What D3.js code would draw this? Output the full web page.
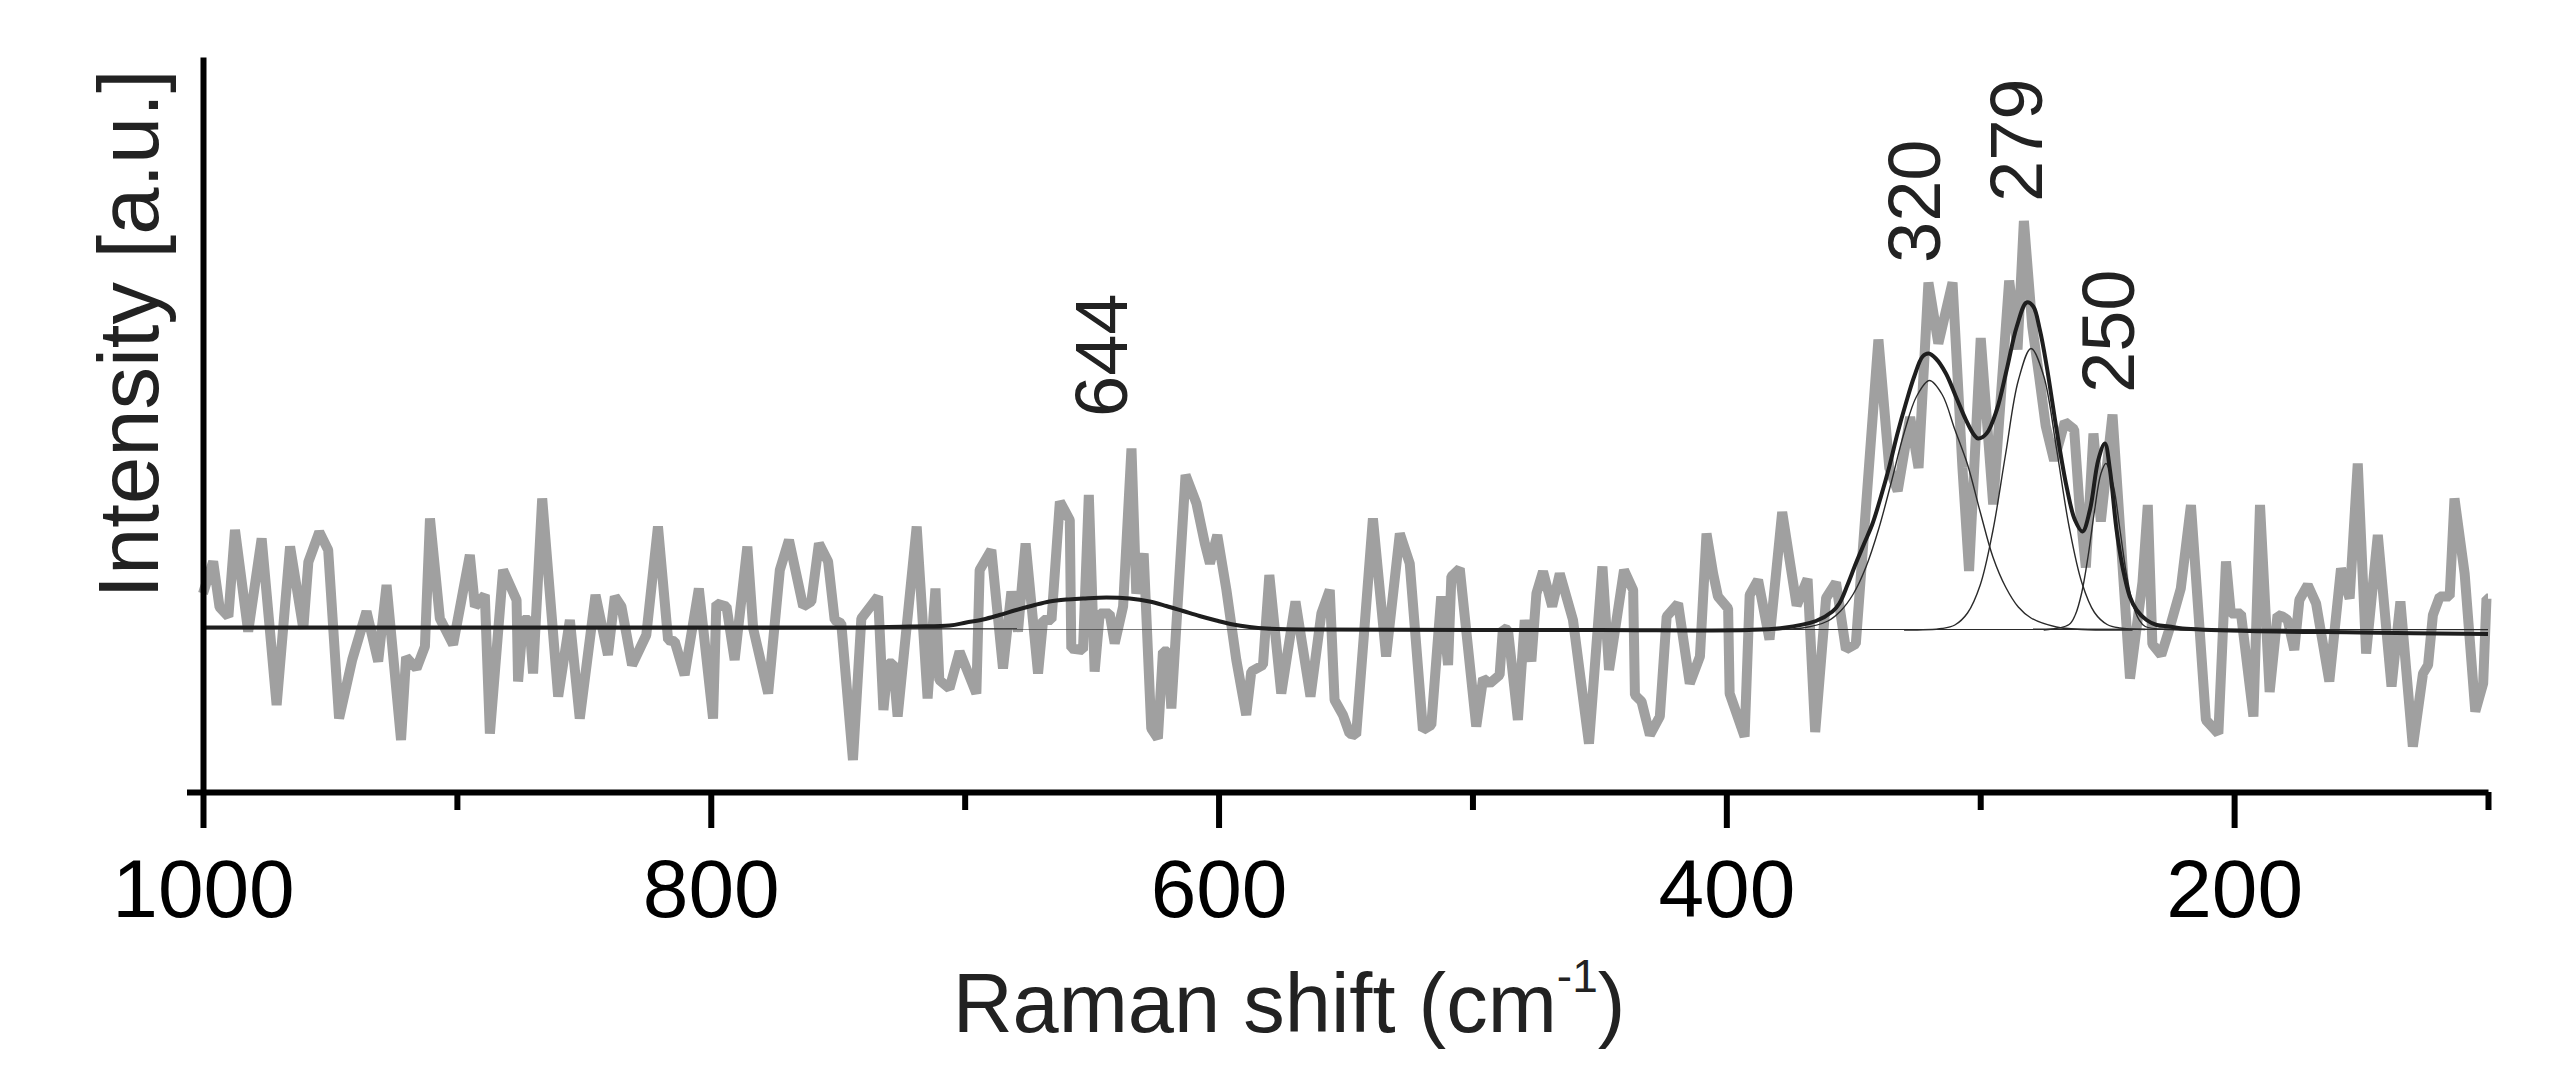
<!DOCTYPE html>
<html lang="en">
<head>
<meta charset="UTF-8">
<title>Raman spectrum</title>
<script src="https://d3js.org/d3.v7.min.js"></script>
<style>
  body { margin: 0; background: #fff; }
  svg { display: block; font-family: "Liberation Sans", Arial, sans-serif; }
</style>
</head>
<body>
<div id="chart"></div>
<script>
// measured spectrum: [Raman shift (cm-1), intensity (a.u.)]
const measured = [
  [1000,39.7],[996,46.1],[993.5,37],[990,35.1],[987.4,52.4],[982.2,32.1],[976.9,50.7],[971,17.4],
  [965.7,49.1],[960.5,32.7],[958.5,46],[954.2,52],[950.7,48.4],[946.4,14.7],[941.2,26.5],[935.6,36.1],
  [931,26.1],[927.7,41.4],[922,10.4],[920,27],[915.9,24.7],[912.6,29.1],[910.6,54.7],[906.7,34.7],
  [901.5,29.5],[894.9,47.4],[892.9,37.1],[889,39.4],[887,11.7],[881.8,44.4],[876.5,38.4],[875.9,22.1],
  [873.9,34.4],[871.5,34.4],[870,23.7],[866.4,58.7],[860.1,19.1],[855.5,34.4],[851.6,14.7],[845.4,39.4],
  [840.5,27.4],[837.8,39.1],[835.2,37.1],[831,25.4],[825.4,31.4],[820.8,53.1],[816.8,30.4],[814.2,30.1],
  [810.3,23.4],[804.7,40.7],[799.1,14.7],[797.8,37.7],[793.8,37.1],[790.6,26.4],[785.6,49.1],[783.3,32.7],
  [777.4,19.7],[772.8,44.4],[769.2,50.4],[763.6,37.1],[760.4,38.1],[757.4,49.7],[753.8,46.1],[751.2,34.4],
  [748.6,33.7],[744,6.4],[740.7,34.7],[734.1,39.1],[732,16.4],[730.2,25.7],[728.2,25.7],[726.4,15.1],
  [718.9,53.1],[714.6,18.7],[711.5,40.7],[710,22.4],[706,20.7],[702,28.1],[695.4,19.7],[694.1,44.4],
  [689.5,48.4],[684.9,24.7],[681.6,40.1],[679,32.1],[676,49.7],[671.1,23.7],[669.1,34.4],[665.8,34.4],
  [662.5,58.1],[658.6,54.4],[658,28.7],[653.4,28.4],[651.1,59.4],[648.8,24.1],[646.8,35.7],[642.9,35.7],
  [640.9,29.7],[637.6,37.1],[634.3,68.7],[632.4,39.7],[629.5,47.7],[626.5,12.7],[623.9,10.7],[621.9,28.1],
  [619.9,28.1],[618.6,16.7],[613,63.4],[608.7,57.7],[605.4,49.7],[603.4,45.7],[600.5,51.4],[596.9,40.4],
  [593,26.4],[589.1,15.4],[587.1,24.1],[582.5,25.4],[580,43.4],[575.3,19.7],[569.7,38.1],[563.8,19.1],
  [559.5,35.7],[556.2,40.4],[554.3,18.4],[551,15.4],[548.4,11.7],[545.8,11.4],[539.2,54.7],[534,27.1],
  [528.6,51.7],[524.7,45.7],[519.5,12.4],[516.2,13.4],[512.3,39.1],[509.6,25.4],[508.3,43.1],[505,44.7],
  [498.5,13.1],[495.8,22.7],[493.2,21.7],[489.3,23.4],[488,32.7],[486,32.4],[482.1,14.4],[479.4,34.4],
  [476.8,26.1],[474.8,39.7],[472.2,44.1],[468.6,37.1],[465.6,43.7],[460.4,34.4],[454.1,9.7],[448.8,45.1],
  [446.2,24.4],[440.3,44.4],[436.7,40.4],[436,19.4],[433.4,18.1],[430.1,11.4],[426.2,15.1],[423.5,35.1],
  [419,37.7],[414.4,21.7],[410.4,27.1],[407.8,51.7],[405.2,43.7],[403.3,39.1],[399.3,36.7],[398.7,19.7],
  [392.8,11.1],[390.8,39.4],[387.5,42.4],[383,30.5],[378,56],[372.3,37.3],[368,42.6],[365,12],
  [360.7,38.8],[356.8,41.9],[352.9,28.5],[349,29.6],[340.1,90.5],[335.8,64.8],[332.5,60.2],[327.6,75],
  [324.3,64.8],[320.4,101.9],[316.5,89.7],[310.9,101.9],[307,64.8],[304.4,44.2],[299.8,90.8],[294.9,57.5],
  [288.6,102.3],[285.3,88.5],[282.8,114.2],[279.5,93.1],[276.8,83.2],[274.2,73.2],[270.9,66.3],[266.7,74],
  [263,72.5],[261,57.9],[258.4,44.9],[255.4,71.7],[252.5,54.1],[247.9,75.5],[241,22.7],[236.1,41.9],
  [234,57.4],[232.2,29.6],[228.7,27.4],[225.6,32.4],[221,40.7],[217,57.4],[211.1,14.4],[206.2,11.7],
  [203.2,46.1],[201.3,35.7],[197.3,35.7],[192.4,15.1],[189.8,57.4],[186,20],[182.9,35.4],[180.9,35.1],
  [178.9,34.4],[176.3,28.4],[174.3,38.4],[171,41.4],[167.7,37.7],[162.5,22.1],[157.9,44.7],[154.5,38.7],
  [151.3,65.7],[148,27.7],[143.4,51.4],[138,21.1],[134.5,38.1],[132.2,24.4],[129.6,9.1],[125.6,23.7],
  [123.6,25.4],[121.7,35.4],[119,39.1],[115.1,39.1],[113.2,58.7],[109.2,43.7],[105,16.1],[101.9,21.7],
  [100.6,38.7],[100,38.7]
];

// fitted curves, sampled off the figure
const fitBaseline = [[1000,32.7],[100,32.5]];
const fit644 = [
  [780,32.7],[740,32.8],[720,33.0],[705.9,33.2],[699.4,33.9],[692.8,34.5],[686.3,35.4],[679.7,36.4],
  [673.1,37.3],[666.6,38.1],[660,38.5],[653.4,38.7],[644.2,38.9],[635,38.7],[627.2,38.1],[620.6,37.2],
  [614,36.2],[607.5,35.2],[600.9,34.3],[594.3,33.5],[587.8,33.0],[581.2,32.7],[574.6,32.5],[550,32.5]
];
const fit320 = [
  [400,32.5],[370,32.8],[360,34.2],[355,36.2],[350,39.6],[345,45.0],[340,52.6],[335,62.0],[330,71.8],
  [325,79.2],[320,82.3],[315,79.5],[310,72.5],[305,65.5],[300,56.0],[295,47.0],[290,41.0],[285,37.0],
  [280,34.8],[270,33.0],[260,32.5],[240,32.4]
];
const fit279 = [
  [330,32.4],[315,32.7],[310,33.4],[305,35.8],[300,41.4],[295,52.3],[290,67.6],[285,82.3],[280,88.7],
  [275,83.2],[270,68.8],[265,53.1],[260,41.9],[255,35.9],[250,33.5],[245,32.8],[235,32.5]
];
const fit250 = [
  [275,32.4],[265,33.5],[262.5,35.5],[260,39.9],[257.5,47.2],[255,56.2],[252.5,63.6],[250.5,65.7],
  [247.5,61.1],[245,52.6],[242.5,43.9],[240,37.8],[237.5,34.5],[235,33.1],[225,32.5],[215,32.4]
];
const fitSum = [
  [1000,32.9],[760,32.9],[740,32.9],[720,33.1],[705.9,33.3],[699.4,33.9],[692.8,34.5],[686.3,35.4],
  [679.7,36.4],[673.1,37.3],[666.6,38.1],[660,38.5],[653.4,38.7],[644.2,38.9],[635,38.7],[627.2,38.1],
  [620.6,37.2],[614,36.2],[607.5,35.2],[600.9,34.3],[594.3,33.5],[587.8,33.0],[581.2,32.7],[560,32.5],
  [450,32.4],[391,32.4],[378,32.8],[364.7,34.2],[358.2,36.1],[355.5,37.7],[352.3,41.4],[349,45.7],
  [345.7,49.7],[342.4,53.7],[339.1,59.1],[335.8,65.1],[332.6,71.7],[329.3,77.7],[326,83.1],[322.7,87.1],
  [320.3,87.7],[317.5,86.7],[313.5,83.7],[309.6,79.1],[305.6,74.4],[302.4,71.4],[300.8,70.7],[297.5,71.7],
  [293.5,76.4],[289.6,84.4],[285.6,93.1],[281.7,97.9],[279.1,97.1],[276.5,92.4],[273.8,85.1],[269.9,72.4],
  [266,61.1],[262.7,54.4],[259.7,52.1],[256.8,56.4],[253.5,66.4],[250.9,69.7],[248.9,64.4],[246.3,52.4],
  [243.7,44.4],[241.1,39.1],[238.4,36.4],[234.5,34.4],[230.5,33.4],[225.6,33.1],[220.3,32.7],[194.1,32.2],
  [150,31.9],[100,31.6]
];

const majorTicks = [1000, 800, 600, 400, 200];
const minorTicks = [900, 700, 500, 300, 100];

// peak annotations: label, anchor shift, anchor intensity
const peakNames = ["644", "320", "279", "250"];
const peakLabelShift = [636, 316, 275.6, 239.4];
const peakLabelLevel = [75, 105.8, 118, 79.8];

const W = 2555, H = 1074;
const margin = { top: 57, right: 67, bottom: 282, left: 203 };

const svg = d3.select("#chart")
  .append("svg")
  .attr("width", W)
  .attr("height", H);

const x = d3.scaleLinear()
  .domain([1000, 100])
  .range([margin.left, W - margin.right]);

const y = d3.scaleLinear()
  .domain([0, 147])
  .range([H - margin.bottom, margin.top]);

const line = d3.line()
  .x(d => x(d[0]))
  .y(d => y(d[1]));

const smooth = d3.line()
  .x(d => x(d[0]))
  .y(d => y(d[1]))
  .curve(d3.curveCatmullRom.alpha(0.5));

// raw spectrum
svg.append("path")
  .datum(measured)
  .attr("d", line)
  .attr("fill", "none")
  .attr("stroke", "#a0a0a0")
  .attr("stroke-width", 10)
  .attr("stroke-linejoin", "bevel");

// individual components
[fitBaseline, fit644, fit320, fit279, fit250].forEach(c => {
  svg.append("path")
    .datum(c)
    .attr("d", smooth)
    .attr("fill", "none")
    .attr("stroke", "#2a2a2a")
    .attr("stroke-width", 1.4);
});

// cumulative fit
svg.append("path")
  .datum(fitSum)
  .attr("d", smooth)
  .attr("fill", "none")
  .attr("stroke", "#1e1e1e")
  .attr("stroke-width", 4);

// axes
function styleAxis(g) {
  g.selectAll(".domain, .tick line")
    .attr("stroke", "#000")
    .attr("stroke-width", 6);
  g.attr("font-size", null).attr("font-family", null);
}

svg.append("g")
  .attr("transform", `translate(0,${y(0)})`)
  .call(d3.axisBottom(x).tickValues(minorTicks).tickSize(18).tickSizeOuter(0).tickFormat(""))
  .call(styleAxis)
  .call(g => g.select(".domain").remove());

svg.append("g")
  .attr("transform", `translate(0,${y(0)})`)
  .call(d3.axisBottom(x).tickValues(majorTicks).tickSize(36).tickSizeOuter(0).tickFormat(d3.format("d")))
  .call(styleAxis)
  .call(g => g.selectAll("text")
    .attr("y", 125)
    .attr("dy", null)
    .attr("fill", "#000")
    .style("font-size", "82px"));

svg.append("g")
  .attr("transform", `translate(${x(1000)},0)`)
  .call(d3.axisLeft(y).tickValues([0]).tickSize(16).tickSizeOuter(0).tickFormat(""))
  .call(styleAxis);

// axis titles
const xTitle = svg.append("text")
  .attr("x", 1289)
  .attr("y", 1032)
  .attr("text-anchor", "middle")
  .attr("fill", "#222")
  .style("font-size", "83px");
xTitle.append("tspan").text("Raman shift (cm");
xTitle.append("tspan").attr("dy", -40).style("font-size", "46px").text("-1");
xTitle.append("tspan").attr("dy", 40).text(")");

svg.append("text")
  .attr("transform", "translate(158,334) rotate(-90)")
  .attr("text-anchor", "middle")
  .attr("fill", "#222")
  .style("font-size", "85px")
  .text("Intensity [a.u.]");

// peak labels
svg.append("g")
  .selectAll("text")
  .data(peakNames)
  .join("text")
  .attr("transform", (d, i) => `translate(${x(peakLabelShift[i])},${y(peakLabelLevel[i])}) rotate(-90)`)
  .attr("text-anchor", "start")
  .attr("fill", "#222")
  .style("font-size", "74px")
  .text(d => d);
</script>
</body>
</html>
